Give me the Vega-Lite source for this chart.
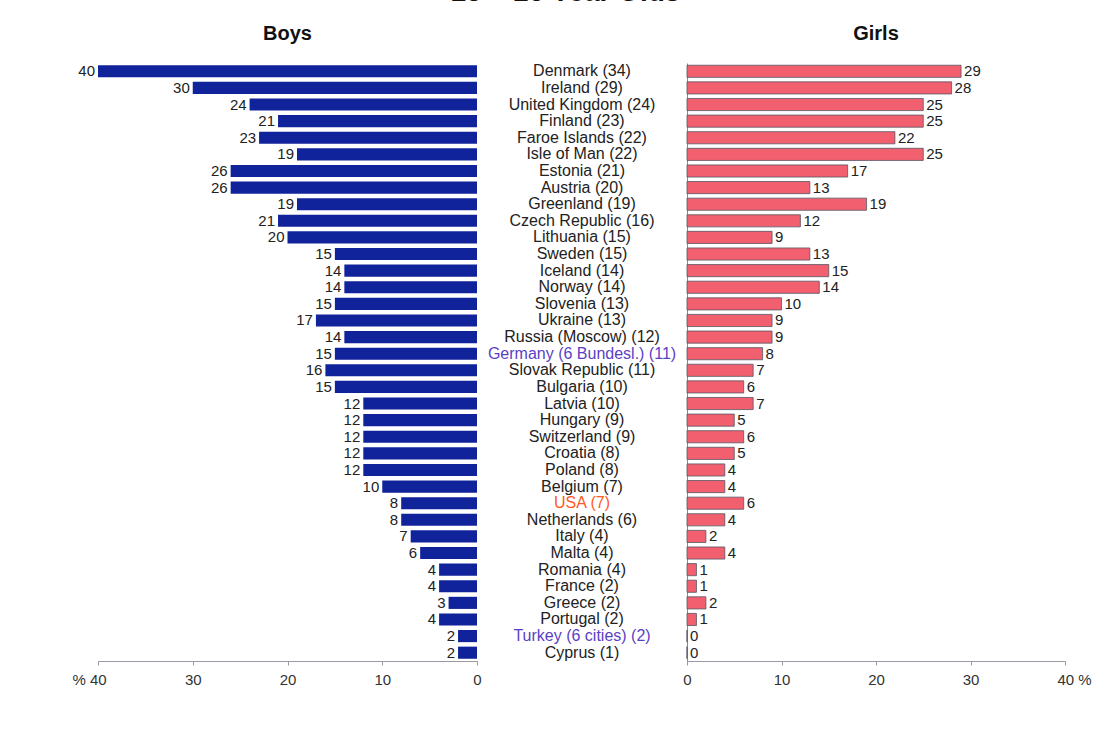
{
  "$schema": "https://vega.github.io/schema/vega-lite/v6.json",
  "padding": {"top": -21, "left": 71, "right": 5, "bottom": 5},
  "bounds": "flush",
  "spacing": 0,
  "title": {"text": "15 – 16 Year Olds", "fontSize": 28, "fontWeight": "bold", "anchor": "middle", "offset": 17, "dx": -16, "color": "#111"},
  "config": {
    "font": "Liberation Sans",
    "view": {"stroke": null},
    "axis": {"labelFont": "Liberation Sans", "labelFontSize": 15, "labelColor": "#333", "domainColor": "#9a9aa6", "tickColor": "#9a9aa6", "grid": false, "tickSize": 4, "labelPadding": 7, "labelFlush": false},
    "title": {"font": "Liberation Sans"}
  },
  "data": {"values": [
    {"label": "Denmark (34)", "boys": 40, "girls": 29, "sample": "national"},
    {"label": "Ireland (29)", "boys": 30, "girls": 28, "sample": "national"},
    {"label": "United Kingdom (24)", "boys": 24, "girls": 25, "sample": "national"},
    {"label": "Finland (23)", "boys": 21, "girls": 25, "sample": "national"},
    {"label": "Faroe Islands (22)", "boys": 23, "girls": 22, "sample": "national"},
    {"label": "Isle of Man (22)", "boys": 19, "girls": 25, "sample": "national"},
    {"label": "Estonia (21)", "boys": 26, "girls": 17, "sample": "national"},
    {"label": "Austria (20)", "boys": 26, "girls": 13, "sample": "national"},
    {"label": "Greenland (19)", "boys": 19, "girls": 19, "sample": "national"},
    {"label": "Czech Republic (16)", "boys": 21, "girls": 12, "sample": "national"},
    {"label": "Lithuania (15)", "boys": 20, "girls": 9, "sample": "national"},
    {"label": "Sweden (15)", "boys": 15, "girls": 13, "sample": "national"},
    {"label": "Iceland (14)", "boys": 14, "girls": 15, "sample": "national"},
    {"label": "Norway (14)", "boys": 14, "girls": 14, "sample": "national"},
    {"label": "Slovenia (13)", "boys": 15, "girls": 10, "sample": "national"},
    {"label": "Ukraine (13)", "boys": 17, "girls": 9, "sample": "national"},
    {"label": "Russia (Moscow) (12)", "boys": 14, "girls": 9, "sample": "national"},
    {"label": "Germany (6 Bundesl.) (11)", "boys": 15, "girls": 8, "sample": "regional"},
    {"label": "Slovak Republic (11)", "boys": 16, "girls": 7, "sample": "national"},
    {"label": "Bulgaria (10)", "boys": 15, "girls": 6, "sample": "national"},
    {"label": "Latvia (10)", "boys": 12, "girls": 7, "sample": "national"},
    {"label": "Hungary (9)", "boys": 12, "girls": 5, "sample": "national"},
    {"label": "Switzerland (9)", "boys": 12, "girls": 6, "sample": "national"},
    {"label": "Croatia (8)", "boys": 12, "girls": 5, "sample": "national"},
    {"label": "Poland (8)", "boys": 12, "girls": 4, "sample": "national"},
    {"label": "Belgium (7)", "boys": 10, "girls": 4, "sample": "national"},
    {"label": "USA (7)", "boys": 8, "girls": 6, "sample": "USA"},
    {"label": "Netherlands (6)", "boys": 8, "girls": 4, "sample": "national"},
    {"label": "Italy (4)", "boys": 7, "girls": 2, "sample": "national"},
    {"label": "Malta (4)", "boys": 6, "girls": 4, "sample": "national"},
    {"label": "Romania (4)", "boys": 4, "girls": 1, "sample": "national"},
    {"label": "France (2)", "boys": 4, "girls": 1, "sample": "national"},
    {"label": "Greece (2)", "boys": 3, "girls": 2, "sample": "national"},
    {"label": "Portugal (2)", "boys": 4, "girls": 1, "sample": "national"},
    {"label": "Turkey (6 cities) (2)", "boys": 2, "girls": 0, "sample": "regional"},
    {"label": "Cyprus (1)", "boys": 2, "girls": 0, "sample": "national"}
  ]},
  "hconcat": [
    {
      "width": 379,
      "height": 598,
      "title": {"text": "Boys", "fontSize": 20, "fontWeight": "bold", "anchor": "middle", "offset": 19, "color": "#111"},
      "encoding": {
        "y": {"field": "label", "type": "nominal", "sort": null, "axis": null, "scale": {"paddingInner": 0.27, "paddingOuter": 0.135}},
        "x": {"field": "boys", "type": "quantitative", "scale": {"domain": [0, 40], "reverse": true, "nice": false},
              "axis": {"values": [0, 10, 20, 30, 40], "title": null, "labelExpr": "datum.value == 40 ? '% 40' : datum.label",
                       "labelOffset": {"condition": {"test": "datum.value == 40", "value": -9}, "value": 0}}}
      },
      "layer": [
        {"mark": {"type": "bar", "color": "#10239b"}},
        {"mark": {"type": "text", "align": "right", "baseline": "middle", "dx": -3, "fontSize": 15, "color": "#222"},
         "encoding": {"text": {"field": "boys", "type": "quantitative"}}}
      ]
    },
    {
      "width": 210,
      "height": 598,
      "mark": {"type": "text", "align": "center", "baseline": "middle", "fontSize": 16},
      "encoding": {
        "y": {"field": "label", "type": "nominal", "sort": null, "axis": null, "scale": {"paddingInner": 0.27, "paddingOuter": 0.135}},
        "x": {"datum": 0, "type": "quantitative", "scale": {"domain": [-1, 1]}, "axis": null},
        "text": {"field": "label", "type": "nominal"},
        "color": {"field": "sample", "type": "nominal", "legend": null,
                  "scale": {"domain": ["national", "regional", "USA"], "range": ["#222222", "#5b3fc4", "#ff5a1f"]}}
      }
    },
    {
      "width": 378,
      "height": 598,
      "title": {"text": "Girls", "fontSize": 20, "fontWeight": "bold", "anchor": "middle", "offset": 19, "color": "#111"},
      "encoding": {
        "y": {"field": "label", "type": "nominal", "sort": null, "scale": {"paddingInner": 0.27, "paddingOuter": 0.135},
              "axis": {"labels": false, "ticks": false, "title": null, "domain": true, "domainColor": "#8a8a96"}},
        "x": {"field": "girls", "type": "quantitative", "scale": {"domain": [0, 40], "nice": false},
              "axis": {"values": [0, 10, 20, 30, 40], "title": null, "labelExpr": "datum.value == 40 ? '40 %' : datum.label",
                       "labelOffset": {"condition": {"test": "datum.value == 40", "value": 9}, "value": 0}}}
      },
      "layer": [
        {"mark": {"type": "bar", "color": "#f25f6e", "stroke": "#555566", "strokeWidth": 0.8}},
        {"mark": {"type": "text", "align": "left", "baseline": "middle", "dx": 3, "fontSize": 15, "color": "#222"},
         "encoding": {"text": {"field": "girls", "type": "quantitative"}}}
      ]
    }
  ]
}
